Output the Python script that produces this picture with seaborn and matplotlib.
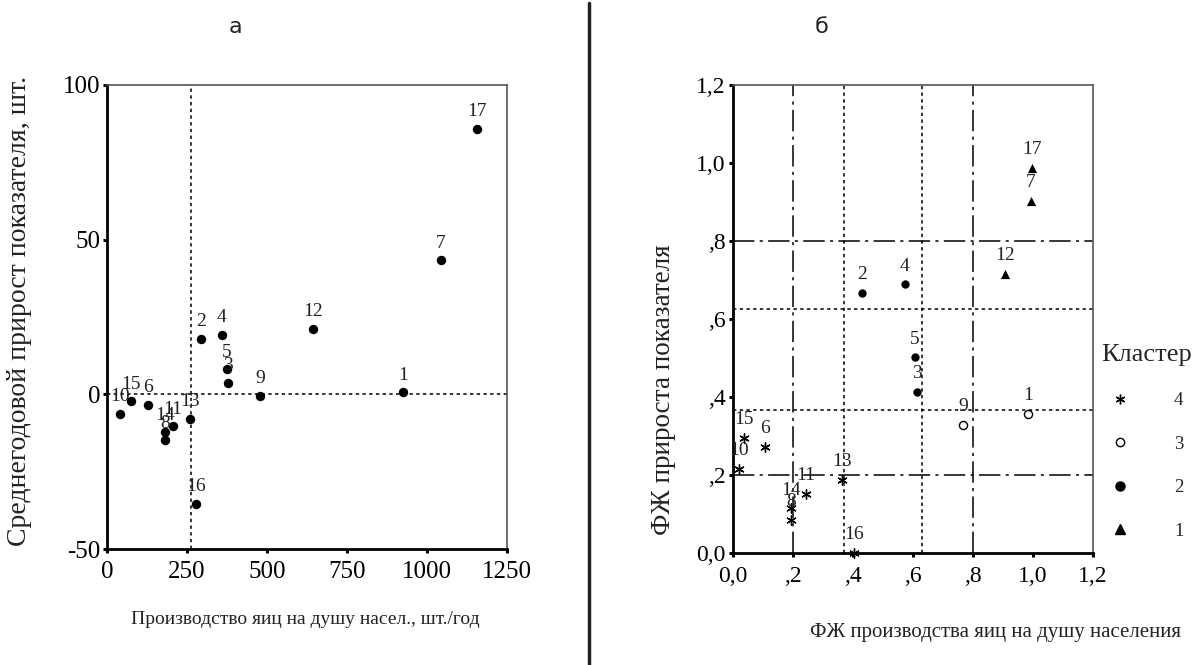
import matplotlib
matplotlib.use("Agg")
import matplotlib.pyplot as plt
import seaborn as sns
import pandas as pd
from matplotlib.lines import Line2D
from matplotlib.ticker import FixedLocator, FixedFormatter

# ---------------- data ----------------
region_ids = [str(i) for i in range(1, 18)]

# panel a: production per capita vs avg annual growth
prod_per_capita = [926, 293, 379, 358, 374, 129, 1044, 181, 478, 41, 205, 643, 259, 181, 74, 278, 1155]
avg_growth = [0.7, 18.0, 3.7, 19.3, 8.1, -3.3, 43.3, -14.9, -0.5, -6.2, -10.3, 21.2, -7.9, -12.3, -2.2, -35.3, 85.9]

# panel b: desirability functions
fd_production = [0.985, 0.431, 0.613, 0.574, 0.608, 0.108, 0.993, 0.194, 0.769, 0.022, 0.244, 0.909, 0.365, 0.194, 0.038, 0.404, 0.999]
fd_growth = [0.356, 0.667, 0.414, 0.689, 0.502, 0.273, 0.904, 0.085, 0.330, 0.216, 0.151, 0.716, 0.189, 0.115, 0.296, 0.0, 0.987]
cluster = [3, 2, 2, 2, 2, 4, 1, 4, 3, 4, 4, 1, 4, 4, 4, 4, 1]

# reference lines
a_vline = [262.5]
a_hline = [0.0]
b_dashdot = [0.2, 0.8]
b_dotted_x = [0.372, 0.631]
b_dotted_y = [0.368, 0.627]

a_xticks = [0, 250, 500, 750, 1000, 1250]
a_yticks = [-50, 0, 50, 100]
b_ticks = [0.0, 0.2, 0.4, 0.6, 0.8, 1.0, 1.2]
b_ticklabels = ["0,0", ",2", ",4", ",6", ",8", "1,0", "1,2"]

title_a = "а"
title_b = "б"
a_xlabel = "Производство яиц на душу насел., шт./год"
a_ylabel = "Среднегодовой прирост показателя, шт."
b_xlabel = "ФЖ производства яиц на душу населения"
b_ylabel = "ФЖ прироста показателя"
legend_title = "Кластер"
legend_order = [4, 3, 2, 1]

# ---------------- styling ----------------
sns.set_theme(style="white")
plt.rcParams["font.family"] = ["Liberation Serif", "DejaVu Serif"]
plt.rcParams["axes.unicode_minus"] = False

W, H = 1202, 665
fig = plt.figure(figsize=(W / 100, H / 100), dpi=100)
fig.patch.set_facecolor("white")

def fx(px):
    return px / W

def fy(py):
    return 1 - py / H

ax_a = fig.add_axes([fx(107), fy(549), fx(507) - fx(107), fy(85) - fy(549)])
ax_b = fig.add_axes([fx(732.7), fy(553.3), fx(1092.7) - fx(732.7), fy(85) - fy(553.3)])

dotted = (0, (2.2, 2.2))
dashdot = (0, (14, 3.5, 2, 3.5))

def style_axes(ax, labelsize):
    ax.set_facecolor("white")
    for side in ["left", "bottom"]:
        ax.spines[side].set_color("black")
        ax.spines[side].set_linewidth(2.0)
    for side in ["top", "right"]:
        ax.spines[side].set_color("#555555")
        ax.spines[side].set_linewidth(1.2)
    ax.tick_params(axis="both", which="both", direction="out", length=3, width=2.2,
                   color="black", labelsize=labelsize, labelcolor="black",
                   left=True, bottom=True, top=False, right=False)
    ax.tick_params(axis="y", pad=2)
    ax.tick_params(axis="x", pad=6)
    ax.set_xlabel("")
    ax.set_ylabel("")
    ax.grid(False)

# ---------------- panel a ----------------
df_a = pd.DataFrame({"id": region_ids, "x": prod_per_capita, "y": avg_growth})
for v in a_vline:
    ax_a.axvline(v, color="black", lw=1.1, ls=dotted, zorder=1)
for h in a_hline:
    ax_a.axhline(h, color="black", lw=1.1, ls=dotted, zorder=1)
sns.scatterplot(data=df_a, x="x", y="y", ax=ax_a, color="black", s=46,
                edgecolor="black", linewidth=0, legend=False, zorder=3)
for _, r in df_a.iterrows():
    ax_a.annotate(r["id"], (r["x"], r["y"]), xytext=(0, 9), textcoords="offset points",
                  ha="center", va="baseline", fontsize=14, color="#222222")
ax_a.set_xlim(0, 1250)
ax_a.set_ylim(-50, 100)
ax_a.xaxis.set_major_locator(FixedLocator(a_xticks))
ax_a.yaxis.set_major_locator(FixedLocator(a_yticks))
style_axes(ax_a, 18)

# ---------------- panel b ----------------
df_b = pd.DataFrame({"id": region_ids, "x": fd_production, "y": fd_growth, "cluster": cluster})
for v in b_dashdot:
    ax_b.axvline(v, color="black", lw=1.1, ls=dashdot, zorder=1)
    ax_b.axhline(v, color="black", lw=1.1, ls=dashdot, zorder=1)
for v in b_dotted_x:
    ax_b.axvline(v, color="black", lw=1.1, ls=dotted, zorder=1)
for h in b_dotted_y:
    ax_b.axhline(h, color="black", lw=1.1, ls=dotted, zorder=1)

marker_style = {
    4: dict(marker=(6, 2, 0), s=45, color="black", linewidth=1.0),
    3: dict(marker="o", s=34, facecolor="white", edgecolor="black", linewidth=1.0),
    2: dict(marker="o", s=36, color="black", linewidth=0),
    1: dict(marker="^", s=44, color="black", linewidth=0),
}
for c in legend_order:
    sub = df_b[df_b["cluster"] == c]
    sns.scatterplot(data=sub, x="x", y="y", ax=ax_b, legend=False, zorder=3,
                    clip_on=False, **marker_style[c])
for _, r in df_b.iterrows():
    ax_b.annotate(r["id"], (r["x"], r["y"]), xytext=(0, 10), textcoords="offset points",
                  ha="center", va="baseline", fontsize=14, color="#222222")
ax_b.set_xlim(0, 1.2)
ax_b.set_ylim(0, 1.2)
ax_b.xaxis.set_major_locator(FixedLocator(b_ticks))
ax_b.xaxis.set_major_formatter(FixedFormatter(b_ticklabels))
ax_b.yaxis.set_major_locator(FixedLocator(b_ticks))
ax_b.yaxis.set_major_formatter(FixedFormatter(b_ticklabels))
style_axes(ax_b, 17)

# legend
handles = []
for c in legend_order:
    st = marker_style[c]
    if c == 4:
        h = Line2D([], [], ls="none", marker=st["marker"], markersize=7, color="black", markeredgewidth=1.0)
    elif c == 3:
        h = Line2D([], [], ls="none", marker="o", markersize=6, markerfacecolor="white",
                   markeredgecolor="black", markeredgewidth=1.0)
    elif c == 2:
        h = Line2D([], [], ls="none", marker="o", markersize=6.5, color="black")
    else:
        h = Line2D([], [], ls="none", marker="^", markersize=6.5, color="black")
    handles.append(h)
leg = ax_b.legend(handles, [str(c) for c in legend_order], title=legend_title,
                  loc="upper left", bbox_to_anchor=(fx(1101), fy(344)), bbox_transform=fig.transFigure,
                  frameon=False, fontsize=13.5, title_fontsize=19, handlelength=2.0,
                  handletextpad=1.9, labelspacing=1.4, borderpad=0, borderaxespad=0,
                  alignment="left")

# titles & axis labels
fig.text(fx(235), fy(27), title_a, ha="center", va="center", fontsize=16,
         family=["DejaVu Sans"], color="#222222")
fig.text(fx(822), fy(27), title_b, ha="center", va="center", fontsize=16,
         family=["DejaVu Sans"], color="#222222")
fig.text(fx(305), fy(620), a_xlabel, ha="center", va="center", fontsize=14, color="#222222")
fig.text(fx(20), fy(311), a_ylabel, ha="center", va="center", rotation=90, fontsize=20, color="#222222")
fig.text(fx(995), fy(633), b_xlabel, ha="center", va="center", fontsize=15, color="#222222")
fig.text(fx(663), fy(390), b_ylabel, ha="center", va="center", rotation=90, fontsize=19.5, color="#222222")

# divider
fig.add_artist(Line2D([fx(588.7), fx(588.7)], [0, fy(3)], transform=fig.transFigure,
                      color="#222222", lw=2.5))

fig.savefig("out.png", dpi=100, facecolor="white")
